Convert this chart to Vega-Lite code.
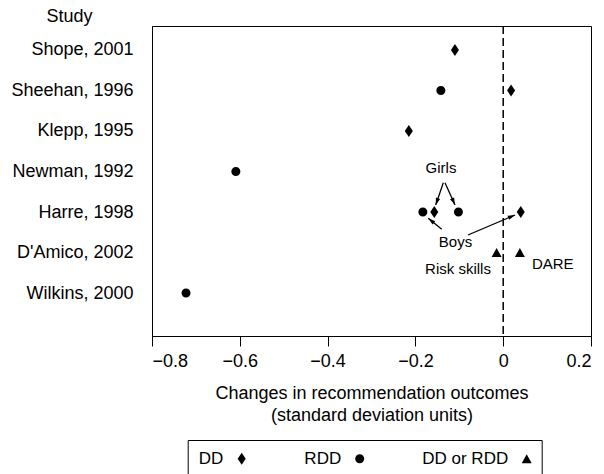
{
  "$schema": "https://vega.github.io/schema/vega-lite/v6.json",
  "width": 439,
  "height": 310,
  "autosize": {"type": "none"},
  "padding": {"left": 152, "top": 26, "right": 13, "bottom": 138},
  "background": "white",
  "config": {
    "font": "Liberation Sans",
    "view": {"stroke": "black", "strokeWidth": 1},
    "axis": {"labelColor": "black", "titleColor": "black", "domainColor": "black", "tickColor": "black", "grid": false, "labelFont": "Liberation Sans", "titleFont": "Liberation Sans", "labelFontSize": 18, "titleFontSize": 18, "titleFontWeight": "normal"},
    "legend": {"labelFont": "Liberation Sans", "labelColor": "black"}
  },
  "datasets": {
    "effects": [
      {"study": "Shope, 2001", "row": 7, "effect": -0.11, "type": "DD"},
      {"study": "Sheehan, 1996", "row": 6, "effect": -0.142, "type": "RDD"},
      {"study": "Sheehan, 1996", "row": 6, "effect": 0.018, "type": "DD"},
      {"study": "Klepp, 1995", "row": 5, "effect": -0.215, "type": "DD"},
      {"study": "Newman, 1992", "row": 4, "effect": -0.609, "type": "RDD"},
      {"study": "Harre, 1998", "row": 3, "effect": -0.183, "type": "RDD"},
      {"study": "Harre, 1998", "row": 3, "effect": -0.157, "type": "DD"},
      {"study": "Harre, 1998", "row": 3, "effect": -0.102, "type": "RDD"},
      {"study": "Harre, 1998", "row": 3, "effect": 0.04, "type": "DD"},
      {"study": "D'Amico, 2002", "row": 2, "effect": -0.015, "type": "DD or RDD"},
      {"study": "D'Amico, 2002", "row": 2, "effect": 0.038, "type": "DD or RDD"},
      {"study": "Wilkins, 2000", "row": 1, "effect": -0.7225, "type": "RDD"}
    ],
    "reference": [{"effect": 0}],
    "notes": [
      {"label": "Girls", "x": -0.1417, "y": 4.085},
      {"label": "Boys", "x": -0.1087, "y": 2.272},
      {"label": "Risk skills", "x": -0.103, "y": 1.593},
      {"label": "DARE", "x": 0.1128, "y": 1.716}
    ],
    "arrows": [
      {"x": -0.1364, "y": 3.723, "x2": -0.1538, "y2": 3.172, "angle": 199},
      {"x": -0.1326, "y": 3.723, "x2": -0.1098, "y2": 3.172, "angle": 156},
      {"x": -0.1401, "y": 2.573, "x2": -0.1706, "y2": 2.844, "angle": 309},
      {"x": -0.0802, "y": 2.432, "x2": 0.0269, "y2": 2.926, "angle": 67}
    ]
  },
  "layer": [
    {
      "data": {"name": "reference"},
      "mark": {"type": "rule", "strokeDash": [8, 4], "color": "black", "strokeWidth": 1.5},
      "encoding": {"x": {"field": "effect", "type": "quantitative"}}
    },
    {
      "data": {"name": "effects"},
      "mark": {"type": "point", "filled": true, "color": "black", "opacity": 1, "size": 144},
      "encoding": {
        "x": {
          "field": "effect", "type": "quantitative",
          "scale": {"domain": [-0.8, 0.2], "nice": false, "zero": false},
          "axis": {
            "values": [-0.8, -0.6, -0.4, -0.2, 0, 0.2],
            "labelExpr": "datum.value == 0 ? '0' : format(datum.value, '.1f')",
            "tickSize": 10, "labelPadding": 6,
            "title": ["Changes in recommendation outcomes", "(standard deviation units)"],
            "titleLineHeight": 22, "titlePadding": 14
          }
        },
        "y": {
          "field": "row", "type": "quantitative",
          "scale": {"domain": [-0.06, 7.59], "nice": false, "zero": false},
          "axis": {
            "values": [1, 2, 3, 4, 5, 6, 7],
            "labelExpr": "['', 'Wilkins, 2000', \"D'Amico, 2002\", 'Harre, 1998', 'Newman, 1992', 'Klepp, 1995', 'Sheehan, 1996', 'Shope, 2001'][datum.value]",
            "ticks": false, "labelPadding": 19, "labelBaseline": "middle",
            "title": "Study", "titleAngle": 0, "titleAlign": "center", "titleBaseline": "alphabetic",
            "titleX": -83, "titleY": -5
          }
        },
        "shape": {
          "field": "type", "type": "nominal",
          "scale": {
            "domain": ["DD", "RDD", "DD or RDD"],
            "range": ["M0,-1L0.67,0L0,1L-0.67,0Z", "M0.75,0A0.75,0.75 0 1,1 -0.75,0A0.75,0.75 0 1,1 0.75,0Z", "M0,-0.75L0.83,0.75L-0.83,0.75Z"]
          },
          "legend": {
            "orient": "none", "legendX": 35.7, "legendY": 414, "direction": "horizontal",
            "title": null, "strokeColor": "black", "padding": 10,
            "symbolSize": 144, "symbolStrokeWidth": 0, "symbolFillColor": "black",
            "symbolOffset": 35.5,
            "labelAlign": "right", "labelOffset": -27, "labelFontSize": 17,
            "columnPadding": 57
          }
        }
      }
    },
    {
      "data": {"name": "arrows"},
      "mark": {"type": "rule", "color": "black", "strokeWidth": 1.3},
      "encoding": {
        "x": {"field": "x", "type": "quantitative"},
        "y": {"field": "y", "type": "quantitative"},
        "x2": {"field": "x2"},
        "y2": {"field": "y2"}
      }
    },
    {
      "data": {"name": "arrows"},
      "mark": {"type": "point", "filled": true, "color": "black", "opacity": 1, "size": 64, "shape": "M0,0L0.55,1.8L-0.55,1.8Z"},
      "encoding": {
        "x": {"field": "x2", "type": "quantitative"},
        "y": {"field": "y2", "type": "quantitative"},
        "angle": {"field": "angle", "type": "quantitative", "scale": null}
      }
    },
    {
      "data": {"name": "notes"},
      "mark": {"type": "text", "fontSize": 15, "font": "Liberation Sans", "color": "black", "align": "center", "baseline": "middle"},
      "encoding": {
        "x": {"field": "x", "type": "quantitative"},
        "y": {"field": "y", "type": "quantitative"},
        "text": {"field": "label"}
      }
    }
  ]
}
